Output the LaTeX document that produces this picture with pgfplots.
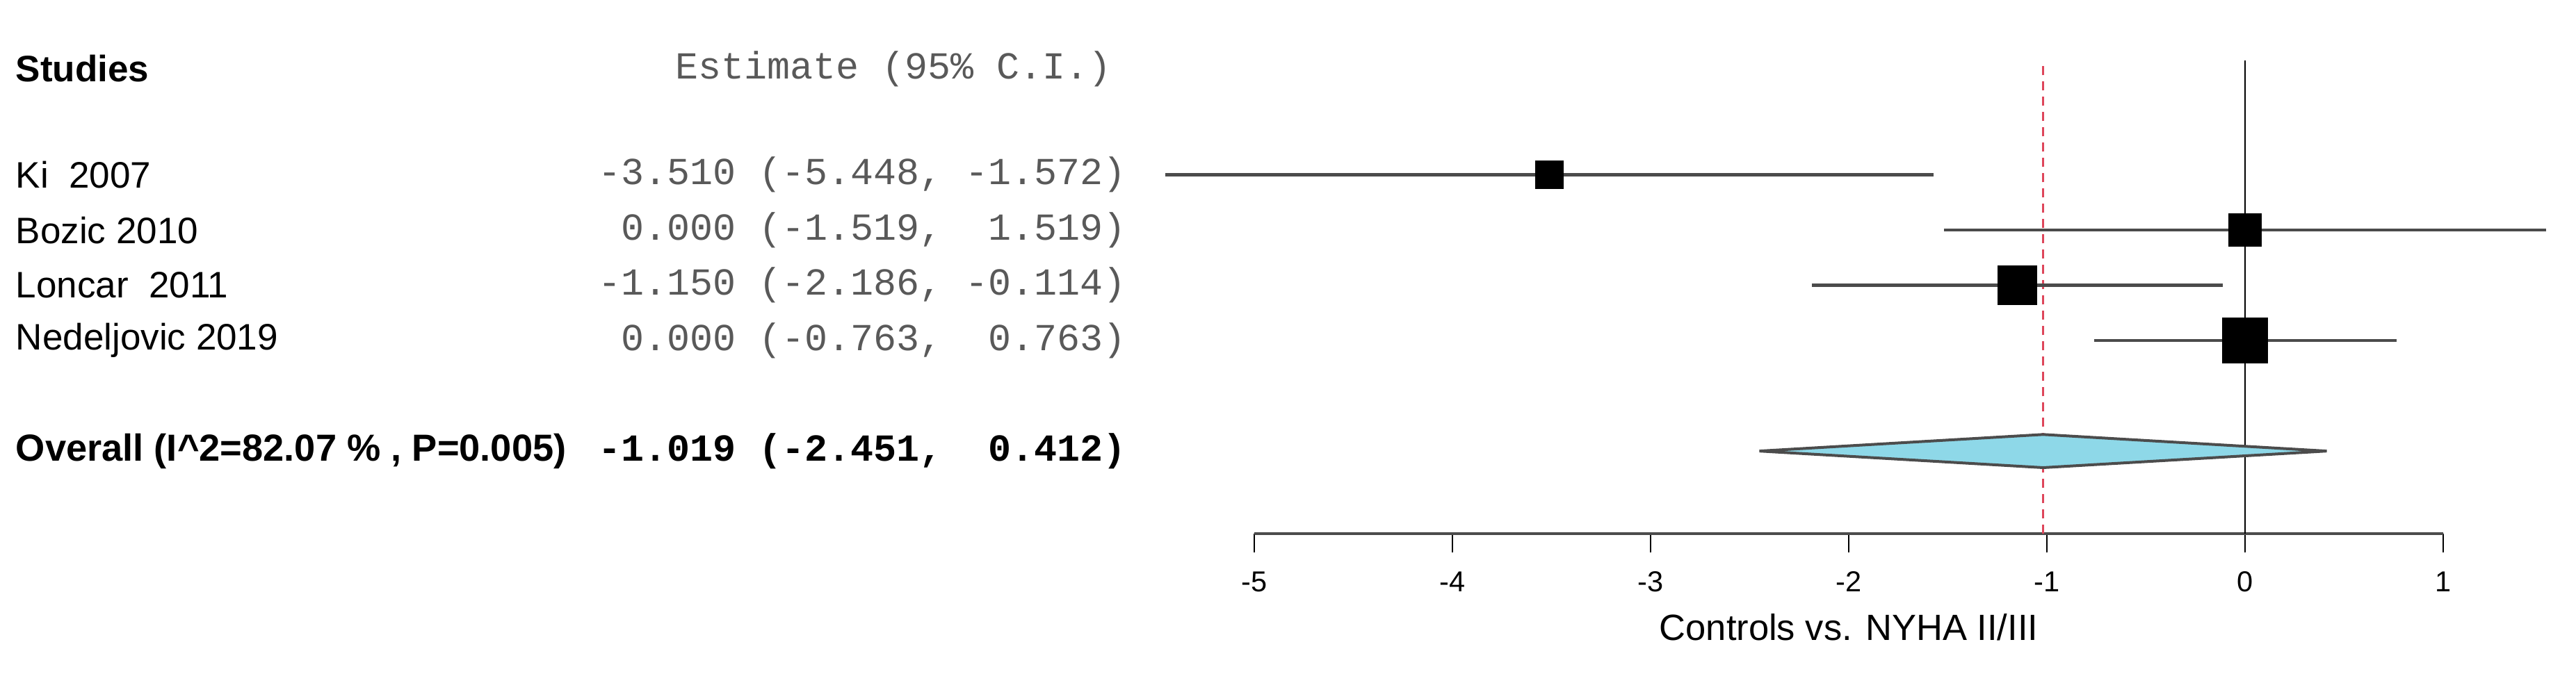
\documentclass[border=0pt]{standalone}
\usepackage{fontspec}
\setmainfont{Liberation Sans}
\setmonofont{Liberation Mono}
\usepackage{pgfplots}
\pgfplotsset{compat=1.18}
\definecolor{diamondfill}{RGB}{142,216,232}
\definecolor{refred}{RGB}{222,70,90}
\definecolor{cigray}{RGB}{75,75,75}
\newcommand{\lab}{\fontsize{10.6}{12}\selectfont}
\newcommand{\labo}{\fontsize{10.85}{12}\selectfont}
\newcommand{\mon}{\fontsize{11}{12}\selectfont\ttfamily}
\begin{document}
\begin{tikzpicture}
\begin{axis}[
  scale only axis, width=342pt, height=136.3pt,
  xmin=-5, xmax=1, ymin=-0.5, ymax=8.07,
  clip=false,
  axis x line*=bottom, hide y axis,
  x axis line style={line width=0.8pt, black!70},
  xtick={-5,-4,-3,-2,-1,0,1},
  xticklabels={-5,-4,-3,-2,-1,0,1},
  xtick align=outside,
  major tick length=5.4pt,
  xtick style={line width=0.4pt, black},
  xticklabel style={font=\fontsize{8.3}{9}\selectfont, anchor=center, yshift=-8.3pt},
  xlabel={Controls vs. NYHA II/III},
  xlabel style={font=\fontsize{10.5}{12}\selectfont, at={(axis description cs:0.5,0)}, anchor=center, yshift=-26.8pt},
]
% reference lines
\addplot[black, line width=0.5pt] coordinates {(0,-0.5) (0,8.07)};
\addplot[refred, line width=0.7pt, dash pattern=on 2.6pt off 1.8pt] coordinates {(-1.019,-0.5) (-1.019,8.07)};
% confidence intervals
\addplot[cigray, line width=0.9pt] coordinates {(-5.448,6) (-1.572,6)};
\addplot[cigray, line width=0.9pt] coordinates {(-1.519,5) (1.519,5)};
\addplot[cigray, line width=0.9pt] coordinates {(-2.186,4) (-0.114,4)};
\addplot[cigray, line width=0.9pt] coordinates {(-0.763,3) (0.763,3)};
% point estimates
\addplot[only marks, mark=square*, mark size=4pt, mark options={fill=black, draw=black, line width=0pt}] coordinates {(-3.510,6)};
\addplot[only marks, mark=square*, mark size=4.7pt, mark options={fill=black, draw=black, line width=0pt}] coordinates {(0.000,5)};
\addplot[only marks, mark=square*, mark size=5.6pt, mark options={fill=black, draw=black, line width=0pt}] coordinates {(-1.150,4)};
\addplot[only marks, mark=square*, mark size=6.5pt, mark options={fill=black, draw=black, line width=0pt}] coordinates {(0.000,3)};
% overall diamond
\addplot[fill=diamondfill, draw=black!70, line width=0.8pt] coordinates {(-2.451,1) (-1.019,1.3) (0.412,1) (-1.019,0.7)} -- cycle;
% text columns
\begin{scope}[every node/.style={inner sep=0pt}]
\node[anchor=west, font=\lab\bfseries] at (axis cs:-11.253,7.92) {Studies};
\node[anchor=west, font=\mon, text=black!65] at (axis cs:-7.923,7.92) {Estimate (95\% C.I.)};
\node[anchor=west, font=\lab] at (axis cs:-11.253,6) {Ki~~2007};
\node[anchor=west, font=\lab] at (axis cs:-11.253,5) {Bozic 2010};
\node[anchor=west, font=\lab] at (axis cs:-11.253,4) {Loncar~~2011};
\node[anchor=west, font=\lab] at (axis cs:-11.253,3) {Nedeljovic 2019};
\node[anchor=west, font=\labo\bfseries] at (axis cs:-11.253,1) {Overall (I\textasciicircum2=82.07 \% , P=0.005)};
\node[anchor=east, font=\mon, text=black!65] at (axis cs:-5.642,6) {-3.510 (-5.448, -1.572)};
\node[anchor=east, font=\mon, text=black!65] at (axis cs:-5.642,5) {0.000 (-1.519,~~1.519)};
\node[anchor=east, font=\mon, text=black!65] at (axis cs:-5.642,4) {-1.150 (-2.186, -0.114)};
\node[anchor=east, font=\mon, text=black!65] at (axis cs:-5.642,3) {0.000 (-0.763,~~0.763)};
\node[anchor=east, font=\mon\bfseries, text=black] at (axis cs:-5.642,1) {-1.019 (-2.451,~~0.412)};
\end{scope}
\coordinate (bl) at (axis cs:-11.33,-3.025);
\coordinate (tr) at (axis cs:1.67,9.163);
\end{axis}
\pgfresetboundingbox
\useasboundingbox (bl) rectangle (tr);
\end{tikzpicture}
\end{document}
